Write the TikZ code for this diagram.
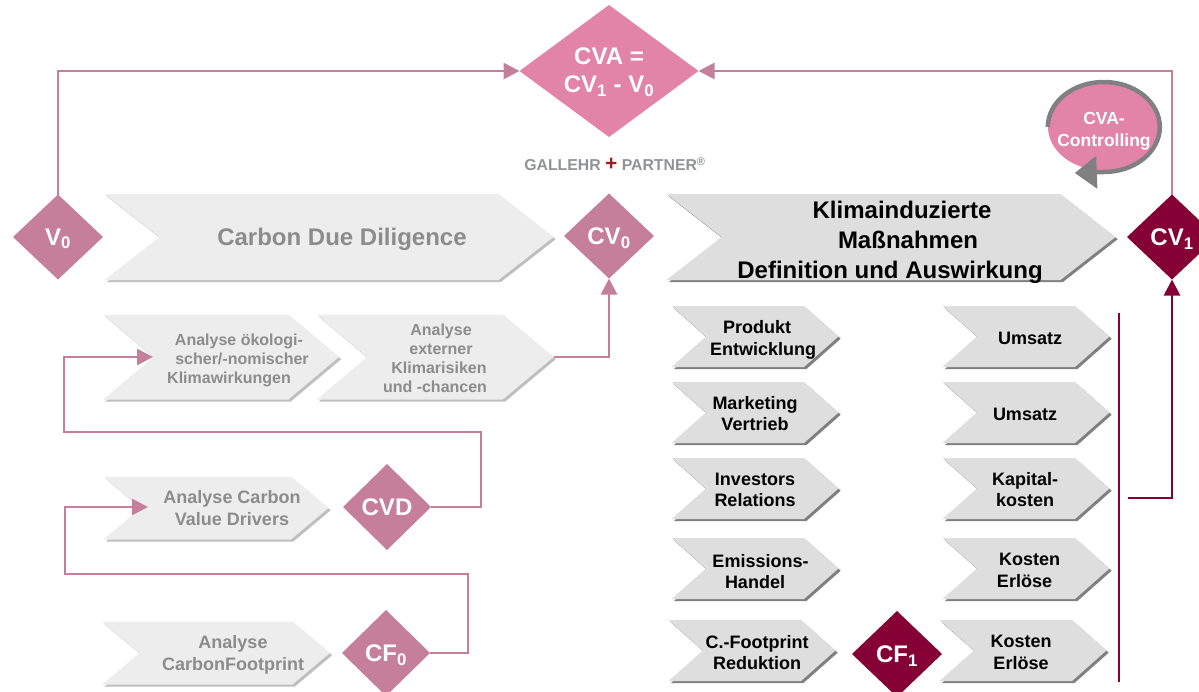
\documentclass[tikz,border=0pt]{standalone}
\usepackage{fontspec}
\setmainfont{Liberation Sans}
\usepackage{tikz}
\usetikzlibrary{shapes.geometric, shapes.symbols, shadows, positioning, calc}
\usetikzlibrary{arrows.meta}
\definecolor{palepink}{HTML}{E283A8}
\definecolor{dullpink}{HTML}{C67F9B}
\definecolor{wine}{HTML}{850035}
\definecolor{paletxt}{HTML}{8C8C8C}
\definecolor{logogray}{HTML}{909296}
\definecolor{logored}{HTML}{A01C28}
\tikzstyle{chevron} = [signal, signal from=west, signal to=east, inner sep=0pt, outer sep=0pt, draw=none]
\tikzstyle{palechev} = [chevron, fill=black!7, general shadow={shadow xshift=2.2pt, shadow yshift=-2.2pt, fill=black!25}]
\tikzstyle{darkchev} = [chevron, fill=black!13, general shadow={shadow xshift=2.2pt, shadow yshift=-2.2pt, fill=black!50}]
\tikzstyle{headchev} = [minimum width=449pt, minimum height=86pt, signal pointer angle=76]
\tikzstyle{midchev} = [minimum height=85pt, signal pointer angle=80]
\tikzstyle{lowchev} = [minimum height=63pt, signal pointer angle=80]
\tikzstyle{sidechev} = [darkchev, minimum width=167pt, minimum height=61pt, signal pointer angle=83]
\tikzstyle{rhomb} = [diamond, aspect=1, inner sep=0pt, outer sep=0pt, minimum width=90pt, minimum height=85pt, text=white, text depth=0pt, font=\fontsize{24}{28}\selectfont\bfseries, align=center]
\tikzstyle{soft} = [rhomb, fill=dullpink]
\tikzstyle{deep} = [rhomb, fill=wine]
\tikzstyle{headtxt} = [inner sep=0pt, font=\fontsize{24}{30}\selectfont\bfseries, align=center]
\tikzstyle{paletxt16} = [inner sep=0pt, text=paletxt, font=\fontsize{16}{19}\selectfont\bfseries, align=center]
\tikzstyle{paletxt18} = [inner sep=0pt, text=paletxt, font=\fontsize{18}{22}\selectfont\bfseries, align=center]
\tikzstyle{sidetxt} = [inner sep=0pt, font=\fontsize{18}{21.5}\selectfont\bfseries, align=center]
\tikzstyle{arrow} = [line width=2.8pt, draw=dullpink, -{Triangle[length=16pt, width=16pt]}]
\tikzstyle{winearrow} = [line width=2.8pt, draw=wine, -{Triangle[length=16pt, width=16pt]}]
\begin{document}
\begin{tikzpicture}[x=1pt, y=-1pt]
    \useasboundingbox (0,0) rectangle (1199,691);

    % top
    \node (cva) [rhomb, fill=palepink, minimum width=179pt, minimum height=132pt] at (609,71) {};
    \node (cvatxt) [inner sep=0pt, text=white, font=\fontsize{24}{28}\selectfont\bfseries, align=center] at (609,72.5) {CVA =\\CV\textsubscript{1} - V\textsubscript{0}};
    \node (logo) [inner sep=0pt, text=logogray, font=\fontsize{15.8}{16}\selectfont\bfseries] at (615,164) {GALLEHR {\color{logored}\fontsize{21}{16}\selectfont +} PARTNER\textsuperscript{®}};
    \node (ctrl) [ellipse, inner sep=0pt, fill=palepink, minimum width=112pt, minimum height=87pt] at (1104,127) {};
    \node (ctrltxt) [inner sep=0pt, text=white, font=\fontsize{17.5}{22}\selectfont\bfseries, align=center] at (1104,131) {CVA-\\Controlling};

    % head row
    \node (v0) [soft] at (58,237) {V\textsubscript{0}};
    \node (cdd) [palechev, headchev] at (329,237) {};
    \node (cv0) [soft] at (609,236) {CV\textsubscript{0}};
    \node (kli) [darkchev, headchev] at (891,237) {};
    \node (cv1) [deep] at (1172,237) {CV\textsubscript{1}};
    \node (cddtxt) [headtxt, text=paletxt] at (342,239) {Carbon Due Diligence};
    \node (klitxt) [headtxt] at (890,242) {\hspace*{24pt}Klimainduzierte\\\hspace*{36pt}Maßnahmen\\Definition und Auswirkung};

    % left column
    \node (oek) [palechev, midchev, minimum width=236pt] at (221,357) {};
    \node (ext) [palechev, midchev, minimum width=237pt] at (435,357) {};
    \node (drv) [palechev, lowchev, minimum width=225pt] at (216,508) {};
    \node (fpr) [palechev, lowchev, minimum width=228pt] at (216,653) {};
    \node (cvd) [soft, minimum width=88pt, minimum height=86pt] at (387,507) {CVD};
    \node (cf0) [soft, minimum width=88pt, minimum height=86pt] at (386,653) {CF\textsubscript{0}};
    \node (oektxt) [paletxt16] at (239,360) {Analyse ökologi-\\\hspace*{6pt}scher/-nomischer\\\hspace*{-20pt}Klimawirkungen};
    \node (exttxt) [paletxt16] at (439,358) {\hspace*{4pt}Analyse\\\hspace*{4pt}externer\\Klimarisiken\\\hspace*{-8pt}und -chancen};
    \node (drvtxt) [paletxt18] at (232,508) {Analyse Carbon\\Value Drivers};
    \node (fprtxt) [paletxt18] at (233,655) {Analyse\\CarbonFootprint};

    % middle column
    \node (prod) [sidechev] at (755,336.5) {};
    \node (mark) [sidechev, below=15pt of prod] {};
    \node (inv) [sidechev, below=15pt of mark] {};
    \node (emis) [sidechev, below=19pt of inv] {};
    \node (foot) [sidechev, below=21pt of emis, xshift=-3pt] {};
    \node [sidetxt] (prodtxt) at (763,340) {\hspace*{-12pt}Produkt\\Entwicklung};
    \node [sidetxt] (marktxt) at (755,413.5) {Marketing\\Vertrieb};
    \node [sidetxt] (invtxt) at (755,490) {Investors\\Relations};
    \node [sidetxt] (emistxt) at (758,571.5) {\hspace*{5pt}Emissions-\\\hspace*{-6pt}Handel};
    \node [sidetxt] (foottxt) at (757,652.5) {C.-Footprint\\Reduktion};

    % right column
    \node (ums1) [sidechev] at (1026,336.5) {};
    \node (ums2) [sidechev, below=15pt of ums1] {};
    \node (kap) [sidechev, below=15pt of ums2] {};
    \node (kost1) [sidechev, below=19pt of kap] {};
    \node (kost2) [sidechev, below=21pt of kost1, xshift=-3pt] {};
    \node [sidetxt] (ums1txt) at (1030,338) {Umsatz};
    \node [sidetxt] (ums2txt) at (1025,414) {Umsatz};
    \node [sidetxt] (kaptxt) at (1025,489.5) {Kapital-\\kosten};
    \node [sidetxt] (kost1txt) at (1027,570.5) {\hspace*{5pt}Kosten\\\hspace*{-5pt}Erlöse};
    \node [sidetxt] (kost2txt) at (1021,652.5) {Kosten\\Erlöse};
    \node (cf1) [deep, minimum width=90pt, minimum height=86pt] at (897,654) {CF\textsubscript{1}};

    % helper points
    \coordinate (oekin) at (153,357);
    \coordinate (drvin) at (148,507);
    \coordinate (barup) at (1119,313);
    \coordinate (bardn) at (1119,682);
    \coordinate (barout) at (1128,498);

    \draw [arrow] (v0.north) |- (cva.west);
    \draw [arrow] (cv1.north) |- (cva.east);
    \draw [arrow] (ext.east) -| (cv0.south);
    \draw [arrow] (cvd.east) -| (481,432) -| (64,357) -- (oekin);
    \draw [arrow] (cf0.east) -| (468,574) -| (65,507) -- (drvin);
    \draw [wine, line width=2pt] (barup) -- (bardn);
    \draw [winearrow] (barout) -| (cv1.south);
    \draw [black!50, line width=4.5pt, -{Triangle[length=22pt, width=32pt]}] (ctrl.west) arc[start angle=180, end angle=-90, x radius=56pt, y radius=45pt] -- ++(-29,1);
\end{tikzpicture}
\end{document}
